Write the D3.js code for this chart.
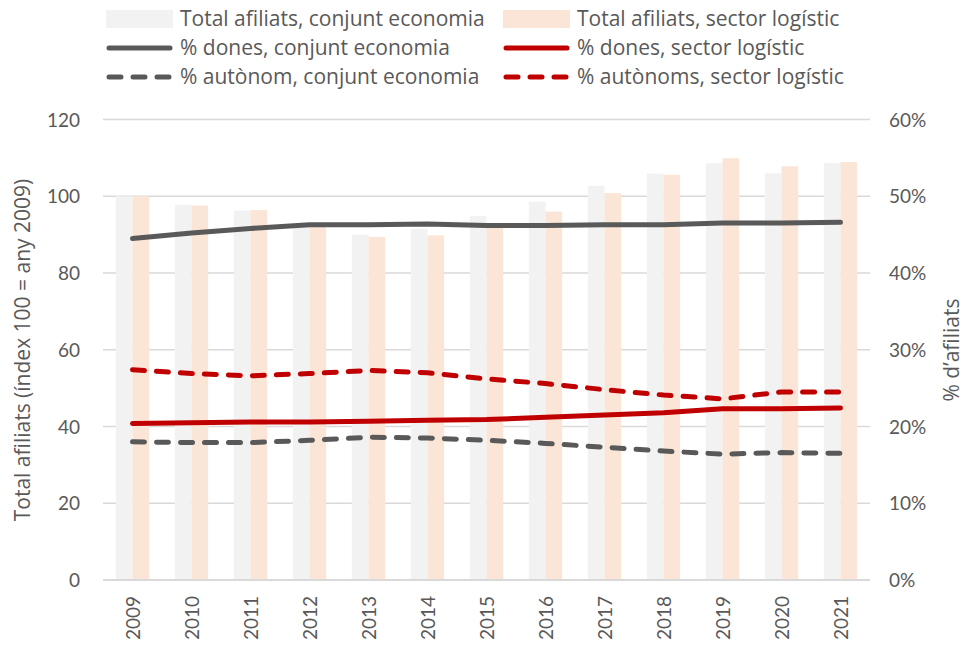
<!DOCTYPE html>
<html>
<head>
<meta charset="utf-8">
<script src="https://cdn.jsdelivr.net/npm/d3@7"></script>
<style>
  body { margin: 0; background: #fff; }
  text { font-family: Lato, "Open Sans", sans-serif; fill: #595959; }
  text.label { font-family: "Open Sans", sans-serif; }
</style>
</head>
<body>
<svg id="chart" width="967" height="646"></svg>
<script>
// data
var years = ['2009','2010','2011','2012','2013','2014','2015','2016','2017','2018','2019','2020','2021'];
var totalEconomia = [100, 97.8, 96.3, 92.5, 90.0, 91.5, 94.9, 98.6, 102.7, 105.9, 108.6, 106.0, 108.7];
var totalLogistic = [100, 97.6, 96.4, 92.0, 89.4, 89.8, 92.3, 96.0, 100.8, 105.6, 109.9, 107.8, 108.9];
var donesEconomia = [44.5, 45.2, 45.8, 46.3, 46.3, 46.4, 46.2, 46.2, 46.3, 46.3, 46.5, 46.5, 46.6];
var donesLogistic = [20.4, 20.5, 20.6, 20.6, 20.7, 20.8, 20.9, 21.2, 21.5, 21.8, 22.3, 22.3, 22.4];
var autonomEconomia = [18.0, 17.9, 17.9, 18.2, 18.6, 18.5, 18.2, 17.8, 17.3, 16.8, 16.4, 16.6, 16.5];
var autonomLogistic = [27.4, 26.9, 26.6, 26.9, 27.3, 27.0, 26.2, 25.6, 24.8, 24.1, 23.6, 24.5, 24.5];
var leftTicks = [0, 20, 40, 60, 80, 100, 120];
var rightTicks = [0, 10, 20, 30, 40, 50, 60];

var grey = '#595959', red = '#c00000';

var svg = d3.select('#chart');

var x = d3.scaleBand().domain(years).range([103, 870]).paddingInner(0.435).paddingOuter(0.2175),
    xs = d3.scaleBand().domain(['eco', 'log']).range([0, x.bandwidth()]),
    yL = d3.scaleLinear().domain([0, 120]).range([580, 119.5]),
    yR = d3.scaleLinear().domain([0, 60]).range([580, 119.5]);

// gridlines
svg.append('g').selectAll('line').data(leftTicks.slice(1)).enter().append('line')
    .attr('x1', 103).attr('x2', 870)
    .attr('y1', function(d) { return yL(d) }).attr('y2', function(d) { return yL(d) })
    .attr('stroke', '#d9d9d9').attr('stroke-width', 1.5);

// bars
var groups = svg.append('g').selectAll('g').data(years).enter().append('g')
    .attr('transform', function(d) { return 'translate(' + x(d) + ',0)' });
groups.append('rect')
    .attr('x', xs('eco')).attr('width', xs.bandwidth())
    .attr('y', function(d, i) { return yL(totalEconomia[i]) })
    .attr('height', function(d, i) { return yL(0) - yL(totalEconomia[i]) })
    .attr('fill', '#f2f2f2');
groups.append('rect')
    .attr('x', xs('log')).attr('width', xs.bandwidth())
    .attr('y', function(d, i) { return yL(totalLogistic[i]) })
    .attr('height', function(d, i) { return yL(0) - yL(totalLogistic[i]) })
    .attr('fill', '#fbe5d6');

// base axis line
svg.append('line').attr('x1', 103).attr('x2', 870).attr('y1', yL(0)).attr('y2', yL(0))
    .attr('stroke', '#d9d9d9').attr('stroke-width', 2);

// lines on the right axis
var line = d3.line()
    .x(function(d, i) { return x(years[i]) + x.bandwidth() / 2 })
    .y(function(d) { return yR(d) });

var series = [
    { values: donesEconomia, color: grey, dash: null },
    { values: donesLogistic, color: red, dash: null },
    { values: autonomEconomia, color: grey, dash: '12,12' },
    { values: autonomLogistic, color: red, dash: '12,12' }
];
series.forEach(function(s) {
    svg.append('path').datum(s.values)
        .attr('d', line)
        .attr('fill', 'none')
        .attr('stroke', s.color)
        .attr('stroke-width', 5)
        .attr('stroke-linecap', 'round')
        .attr('stroke-linejoin', 'round')
        .attr('stroke-dasharray', s.dash);
});

// left axis labels
svg.append('g').selectAll('text').data(leftTicks).enter().append('text')
    .attr('x', 80).attr('y', function(d) { return yL(d) + 7 })
    .attr('text-anchor', 'end').style('font-size', '19px')
    .text(function(d) { return d });

// right axis labels
svg.append('g').selectAll('text').data(rightTicks).enter().append('text')
    .attr('x', 889).attr('y', function(d) { return yR(d) + 7 })
    .attr('text-anchor', 'start').style('font-size', '19px')
    .text(function(d) { return d + '%' });

// year labels
svg.append('g').selectAll('text').data(years).enter().append('text')
    .attr('transform', function(d) { return 'translate(' + (x(d) + x.bandwidth() / 2 + 7) + ',596) rotate(-90)' })
    .attr('text-anchor', 'end').style('font-size', '19px')
    .text(function(d) { return d });

// axis titles
svg.append('text').attr('class', 'label')
    .attr('transform', 'translate(30,350) rotate(-90)')
    .attr('text-anchor', 'middle').style('font-size', '21px')
    .text('Total afiliats (índex 100 = any 2009)');
svg.append('text').attr('class', 'label')
    .attr('transform', 'translate(959,350) rotate(-90)')
    .attr('text-anchor', 'middle').style('font-size', '21px')
    .text('% d\u2019afiliats');

// legend
var legend = [
    { label: 'Total afiliats, conjunt economia', type: 'rect', color: '#f2f2f2', col: 0, row: 0 },
    { label: 'Total afiliats, sector logístic', type: 'rect', color: '#fbe5d6', col: 1, row: 0 },
    { label: '% dones, conjunt economia', type: 'line', color: grey, col: 0, row: 1 },
    { label: '% dones, sector logístic', type: 'line', color: red, col: 1, row: 1 },
    { label: '% autònom, conjunt economia', type: 'dash', color: grey, col: 0, row: 2 },
    { label: '% autònoms, sector logístic', type: 'dash', color: red, col: 1, row: 2 }
];
var lg = svg.append('g').selectAll('g').data(legend).enter().append('g')
    .attr('transform', function(d) { return 'translate(' + (d.col ? 503 : 106) + ',' + (19 + d.row * 29) + ')' });
lg.filter(function(d) { return d.type == 'rect' }).append('rect')
    .attr('x', 0).attr('y', -9).attr('width', 67).attr('height', 18)
    .attr('fill', function(d) { return d.color });
lg.filter(function(d) { return d.type != 'rect' }).append('line')
    .attr('x1', 3).attr('x2', 64).attr('y1', 0).attr('y2', 0)
    .attr('stroke', function(d) { return d.color })
    .attr('stroke-width', 5).attr('stroke-linecap', 'round')
    .attr('stroke-dasharray', function(d) { return d.type == 'dash' ? '12,12' : null });
lg.append('text').attr('class', 'label')
    .attr('x', 74).attr('y', 7).style('font-size', '21px')
    .text(function(d) { return d.label });
</script>
</body>
</html>
